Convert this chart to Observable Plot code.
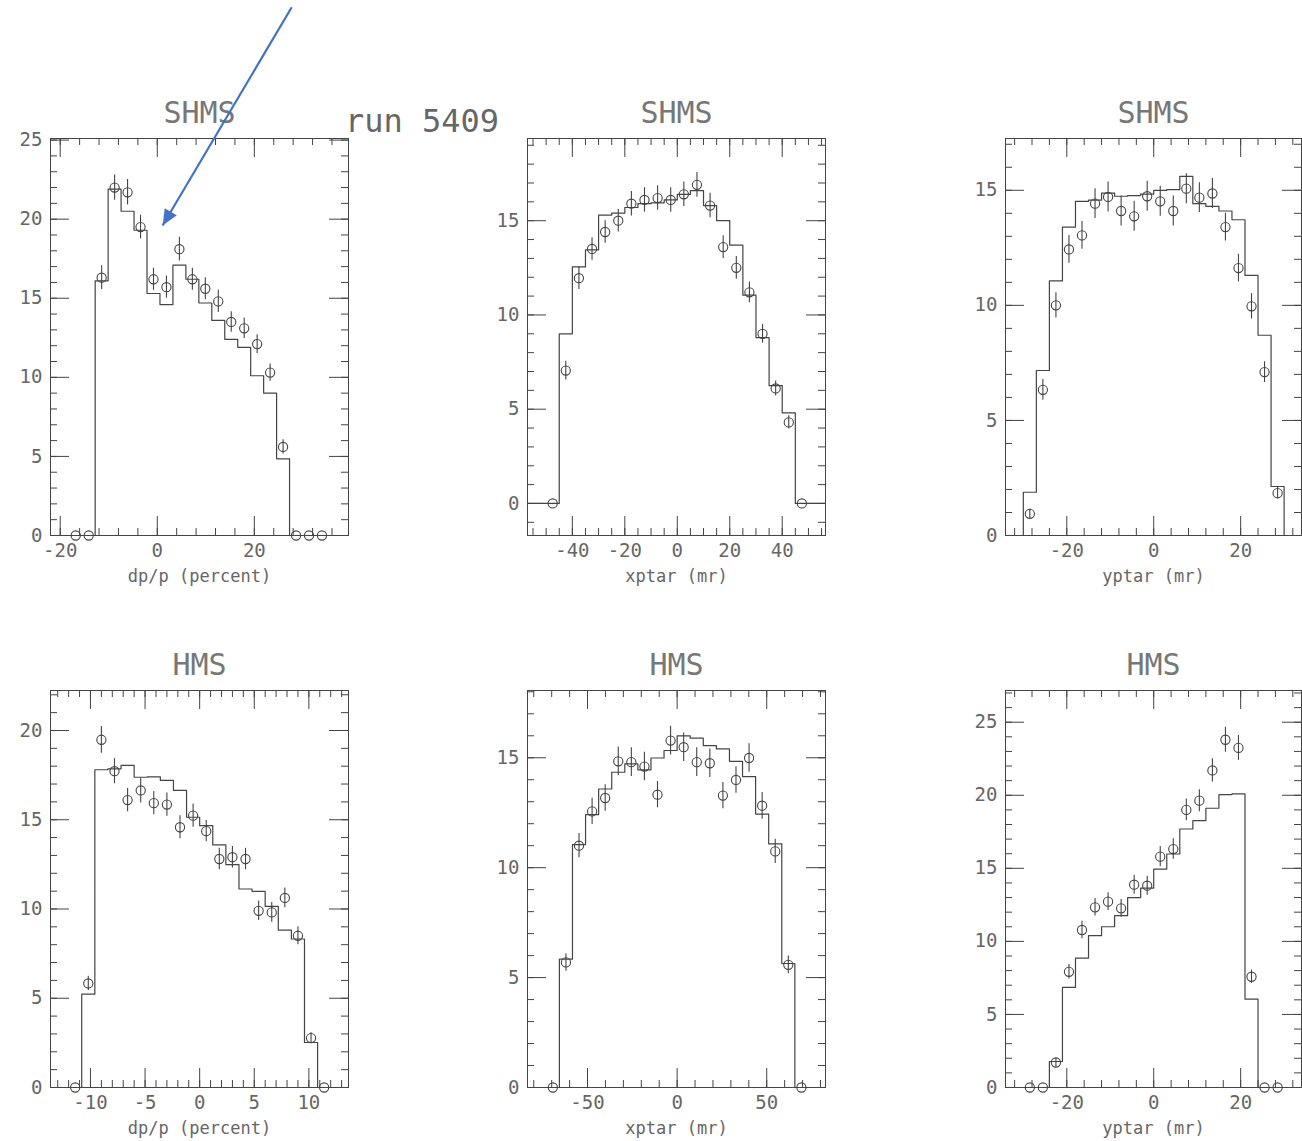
<!DOCTYPE html>
<html><head><meta charset="utf-8">
<script src="https://cdn.jsdelivr.net/npm/d3@7"></script>
<script src="https://cdn.jsdelivr.net/npm/@observablehq/plot@0.6"></script>
<style>
body{margin:0;background:#fff;}
#wrap{position:relative;width:1302px;height:1141px;overflow:hidden;background:#fff;font-family:"DejaVu Sans Mono",monospace;}
.pn{position:absolute;}
#run{position:absolute;left:345px;top:105px;font-size:32px;line-height:32px;color:#666;white-space:nowrap;z-index:5;font-family:"DejaVu Sans Mono",monospace;}
</style></head>
<body><div id="wrap"><div id="run">run 5409</div></div>
<script>
// ---------- SHMS dp/p ----------
const shmsDpCenters = [-16.8,-14.13,-11.46,-8.79,-6.12,-3.45,-0.78,1.89,4.56,7.23,9.9,12.57,15.24,17.91,20.58,23.25,25.92,28.59,31.26,33.93];
const shmsDpMC   = [0,0,16.1,21.9,20.5,19.3,15.3,14.6,17.1,16.2,14.7,13.6,12.4,11.9,10.1,9.0,4.85,0,0,0];
const shmsDpData = [0,0,16.3,22.0,21.7,19.5,16.2,15.7,18.1,16.2,15.6,14.8,13.5,13.1,12.1,10.3,5.6,0,0,0];
const shmsDpErr  = [0,0,0.75,0.8,0.8,0.75,0.7,0.7,0.75,0.7,0.7,0.7,0.65,0.65,0.6,0.55,0.45,0,0,0];
// ---------- SHMS xptar ----------
const shmsXpCenters = [-47.5,-42.5,-37.5,-32.5,-27.5,-22.5,-17.5,-12.5,-7.5,-2.5,2.5,7.5,12.5,17.5,22.5,27.5,32.5,37.5,42.5,47.5];
const shmsXpMC   = [0,9.0,12.55,13.45,15.3,15.4,15.7,15.9,15.95,16.1,16.4,16.6,15.8,15.0,13.7,11.05,8.8,6.25,4.8,0];
const shmsXpData = [0,7.05,11.95,13.5,14.4,15.0,15.9,16.1,16.2,16.1,16.4,16.9,15.8,13.6,12.5,11.2,9.0,6.1,4.3,0];
const shmsXpErr  = [0,0.5,0.6,0.6,0.6,0.6,0.65,0.65,0.65,0.65,0.65,0.65,0.65,0.6,0.6,0.55,0.5,0.4,0.35,0];
// ---------- SHMS yptar ----------
const shmsYpCenters = [-28.5,-25.5,-22.5,-19.5,-16.5,-13.5,-10.5,-7.5,-4.5,-1.5,1.5,4.5,7.5,10.5,13.5,16.5,19.5,22.5,25.5,28.5];
const shmsYpMC   = [1.88,7.17,11.06,13.4,14.52,14.57,14.88,14.74,14.77,14.83,15.0,15.03,15.6,14.42,14.3,14.1,13.72,11.3,8.7,2.13];
const shmsYpData = [0.94,6.33,10.0,12.43,13.04,14.42,14.71,14.1,13.87,14.74,14.52,14.1,15.07,14.68,14.86,13.4,11.62,9.96,7.1,1.84];
const shmsYpErr  = [0.2,0.45,0.55,0.6,0.6,0.65,0.65,0.65,0.65,0.65,0.65,0.65,0.65,0.65,0.65,0.6,0.6,0.55,0.45,0.25];
// ---------- HMS dp/p ----------
const hmsDpCenters = [-11.4,-10.2,-9.0,-7.8,-6.6,-5.4,-4.2,-3.0,-1.8,-0.6,0.6,1.8,3.0,4.2,5.4,6.6,7.8,9.0,10.2,11.4];
const hmsDpMC   = [0,5.23,17.8,17.85,18.04,17.38,17.4,17.2,16.64,15.14,14.67,13.59,12.49,11.12,10.99,10.15,8.82,8.32,2.52,0];
const hmsDpData = [0,5.83,19.48,17.72,16.1,16.64,15.93,15.85,14.58,15.23,14.36,12.8,12.9,12.8,9.9,9.81,10.62,8.5,2.77,0];
const hmsDpErr  = [0,0.4,0.75,0.7,0.65,0.7,0.65,0.65,0.65,0.65,0.6,0.6,0.6,0.6,0.55,0.55,0.55,0.5,0.3,0];
// ---------- HMS xptar ----------
const hmsXpCenters = [-69.35,-62.05,-54.75,-47.45,-40.15,-32.85,-25.55,-18.25,-10.95,-3.65,3.65,10.95,18.25,25.55,32.85,40.15,47.45,54.75,62.05,69.35];
const hmsXpMC   = [0,5.84,11.05,12.41,13.58,14.34,14.72,14.45,14.99,15.33,16.0,15.89,15.55,15.4,14.84,14.14,12.44,11.08,5.64,0];
const hmsXpData = [0,5.69,11.0,12.56,13.17,14.84,14.8,14.6,13.32,15.78,15.48,14.8,14.75,13.28,13.99,14.99,12.82,10.74,5.58,0];
const hmsXpErr  = [0,0.4,0.55,0.6,0.6,0.65,0.65,0.65,0.6,0.65,0.65,0.65,0.65,0.6,0.6,0.65,0.6,0.55,0.4,0];
// ---------- HMS yptar ----------
const hmsYpCenters = [-28.5,-25.5,-22.5,-19.5,-16.5,-13.5,-10.5,-7.5,-4.5,-1.5,1.5,4.5,7.5,10.5,13.5,16.5,19.5,22.5,25.5,28.5];
const hmsYpMC   = [0,0,1.78,6.85,8.86,10.39,11.0,11.76,13.0,13.65,14.95,15.98,17.69,18.26,19.11,20.05,20.09,6.05,0,0];
const hmsYpData = [0,0,1.71,7.92,10.78,12.33,12.72,12.26,13.88,13.81,15.8,16.32,19.0,19.63,21.7,23.8,23.24,7.58,0,0];
const hmsYpErr  = [0,0,0.3,0.5,0.6,0.6,0.6,0.6,0.65,0.65,0.7,0.7,0.75,0.75,0.8,0.85,0.85,0.45,0,0];

// annotation arrow (in SHMS dp/p panel coordinates)
const arrowAnnotation = [{x1: 27.7, y1: 33.4, x2: 1.1, y2: 19.6}];

const cols = [{left:0,w:440,ml:50,mr:92},{left:440,w:460,ml:87,mr:75},{left:900,w:402,ml:105,mr:1}];
const rows = [{top:0,h:600,mt:138,mb:65},{top:600,h:541,mt:90,mb:54}];

const panels = [
 {row:0,col:0,title:"SHMS",xlabel:"dp/p (percent)",centers:shmsDpCenters,bin:2.67,mc:shmsDpMC,data:shmsDpData,err:shmsDpErr,
  xDomain:[-22,39.4],yDomain:[0,25.1],xMajor:[-20,0,20],xStep:4,yMajor:[0,5,10,15,20,25],yStep:1,arrow:true},
 {row:0,col:1,title:"SHMS",xlabel:"xptar (mr)",centers:shmsXpCenters,bin:5,mc:shmsXpMC,data:shmsXpData,err:shmsXpErr,
  xDomain:[-57.1,56.5],yDomain:[-1.7,19.36],xMajor:[-40,-20,0,20,40],xStep:5,yMajor:[0,5,10,15],yStep:1},
 {row:0,col:2,title:"SHMS",xlabel:"yptar (mr)",centers:shmsYpCenters,bin:3,mc:shmsYpMC,data:shmsYpData,err:shmsYpErr,
  xDomain:[-34.1,34.0],yDomain:[0,17.25],xMajor:[-20,0,20],xStep:4,yMajor:[0,5,10,15],yStep:1},
 {row:1,col:0,title:"HMS",xlabel:"dp/p (percent)",centers:hmsDpCenters,bin:1.2,mc:hmsDpMC,data:hmsDpData,err:hmsDpErr,
  xDomain:[-13.66,13.63],yDomain:[0,22.24],xMajor:[-10,-5,0,5,10],xStep:1,yMajor:[0,5,10,15,20],yStep:1},
 {row:1,col:1,title:"HMS",xlabel:"xptar (mr)",centers:hmsXpCenters,bin:7.3,mc:hmsXpMC,data:hmsXpData,err:hmsXpErr,
  xDomain:[-83.5,82.8],yDomain:[0,18.06],xMajor:[-50,0,50],xStep:10,yMajor:[0,5,10,15],yStep:1},
 {row:1,col:2,title:"HMS",xlabel:"yptar (mr)",centers:hmsYpCenters,bin:3,mc:hmsYpMC,data:hmsYpData,err:hmsYpErr,
  xDomain:[-34.1,34.0],yDomain:[0,27.17],xMajor:[-20,0,20],xStep:4,yMajor:[0,5,10,15,20,25],yStep:1}
];

function headMarker(color) {
  const m = d3.create("svg:marker")
    .attr("viewBox", "-17 -8 18 16")
    .attr("markerWidth", 18).attr("markerHeight", 16)
    .attr("markerUnits", "userSpaceOnUse")
    .attr("orient", "auto")
    .attr("overflow", "visible");
  m.append("path").attr("d", "M-16,-7L0,0L-16,7Z").attr("fill", color).attr("stroke", "none");
  return m.node();
}

const LINE = "#444", TXT = "#666";
const wrap = document.getElementById("wrap");

for (const p of panels) {
  const c = cols[p.col], r = rows[p.row];
  const fw = c.w - c.ml - c.mr, fh = r.h - r.mt - r.mb;
  const inRange = (v, d) => v >= d[0] && v <= d[1];
  const xMinor = d3.range(Math.ceil(p.xDomain[0]/p.xStep)*p.xStep, p.xDomain[1], p.xStep).filter(v => inRange(v, p.xDomain));
  const yMinor = d3.range(Math.ceil(p.yDomain[0]/p.yStep)*p.yStep, p.yDomain[1], p.yStep).filter(v => inRange(v, p.yDomain));
  const half = p.bin / 2;
  const step = [{x: p.xDomain[0], y: 0},
    ...p.centers.map((cx, i) => ({x: cx - half, y: p.mc[i]})),
    {x: p.centers[p.centers.length - 1] + half, y: 0},
    {x: p.xDomain[1], y: 0}];
  const pts = p.centers.map((cx, i) => ({x: cx, y: p.data[i], e: p.err[i]}));
  const MAJ = 19, MIN = 7;
  const marks = [
    Plot.frame({stroke: LINE, strokeWidth: 1}),
    Plot.ruleX(p.xMajor, {insetTop: fh - MAJ, stroke: LINE}),
    Plot.ruleX(p.xMajor, {insetBottom: fh - MAJ, stroke: LINE}),
    Plot.ruleX(xMinor, {insetTop: fh - MIN, stroke: LINE}),
    Plot.ruleX(xMinor, {insetBottom: fh - MIN, stroke: LINE}),
    Plot.ruleY(p.yMajor, {insetRight: fw - MAJ, stroke: LINE}),
    Plot.ruleY(p.yMajor, {insetLeft: fw - MAJ, stroke: LINE}),
    Plot.ruleY(yMinor, {insetRight: fw - MIN, stroke: LINE}),
    Plot.ruleY(yMinor, {insetLeft: fw - MIN, stroke: LINE}),
    Plot.axisX(p.xMajor, {tickSize: 0, tickPadding: 8, label: null, fontSize: 19, fill: TXT, tickFormat: d => `${d}`}),
    Plot.axisY(p.yMajor, {tickSize: 0, tickPadding: 8, label: null, fontSize: 19, fill: TXT, tickFormat: d => `${d}`}),
    Plot.line(step, {x: "x", y: "y", curve: "step-after", stroke: LINE, strokeWidth: 1.2}),
    Plot.ruleX(pts.filter(d => d.e > 0), {x: "x", y1: d => d.y - d.e, y2: d => d.y + d.e, stroke: LINE, strokeWidth: 1.1}),
    Plot.dot(pts, {x: "x", y: "y", r: 4.6, stroke: LINE, fill: "none", strokeWidth: 1.1}),
    Plot.text([p.title], {text: d => d, frameAnchor: "top", lineAnchor: "bottom", dy: -16, fontSize: 30, fill: "#777"}),
    Plot.text([p.xlabel], {text: d => d, frameAnchor: "bottom", lineAnchor: "bottom", dy: 46, fontSize: 17, fill: TXT})
  ];
  if (p.arrow) {
    marks.push(Plot.link(arrowAnnotation, {x1: "x1", y1: "y1", x2: "x2", y2: "y2", stroke: "#4472C4", strokeWidth: 2.2, markerEnd: headMarker}));
  }
  const svg = Plot.plot({
    width: c.w, height: r.h,
    marginTop: r.mt, marginBottom: r.mb, marginLeft: c.ml, marginRight: c.mr,
    x: {domain: p.xDomain},
    y: {domain: p.yDomain},
    style: {background: "transparent", fontFamily: "'DejaVu Sans Mono', monospace"},
    marks
  });
  const div = document.createElement("div");
  div.className = "pn";
  div.style.left = c.left + "px";
  div.style.top = r.top + "px";
  div.appendChild(svg);
  wrap.appendChild(div);
}
</script>
</body></html>
